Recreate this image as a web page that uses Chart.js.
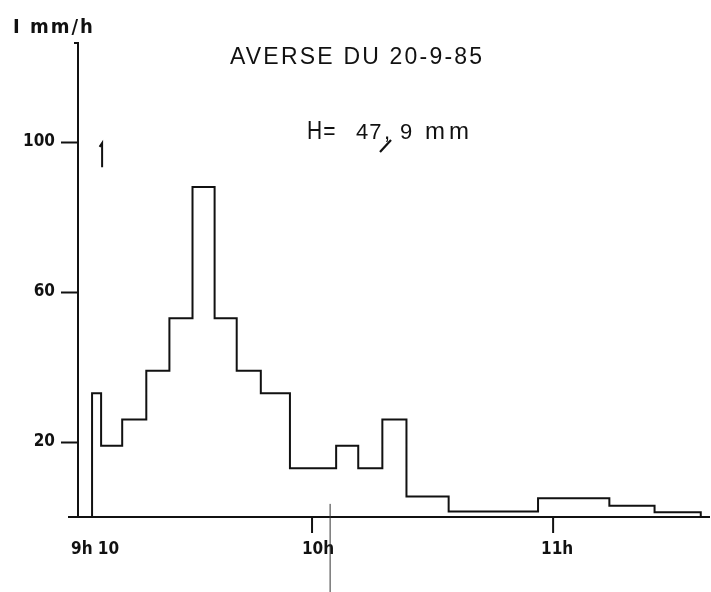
<!DOCTYPE html>
<html>
<head>
<meta charset="utf-8">
<title>Averse du 20-9-85</title>
<script src="https://cdn.jsdelivr.net/npm/chart.js@4.4.1/dist/chart.umd.min.js"></script>
<style>
    html, body { margin: 0; padding: 0; background: #ffffff; }
</style>
</head>
<body>
<canvas id="hyetoChart" width="711" height="592"></canvas>
<script>
// Interval boundaries, in minutes after 9h00
const edgesMin = [5.25, 7.5, 12.75, 18.75, 24.5, 30.25, 35.75, 41.25, 47.25, 54.5,
                  66, 71.5, 77.5, 83.5, 94, 116.25, 134, 145.25, 156.75];
// Rain intensity for each interval (mm/h)
const intensity = [33, 19, 26, 39, 53, 88, 53, 39, 33, 13,
                   19, 13, 26, 5.5, 1.5, 5, 3, 1.3];

const yTickValues = [20, 60, 100];
const xTickValues = [6, 61.5, 121];
const xTickMarks = [60, 120];
const xTickLabels = ['9h 10', '10h', '11h'];

const ink = '#111111';
const labelFont = { family: '"Liberation Sans Narrow", "DejaVu Sans Condensed", sans-serif', size: 17, weight: 'bold' };

// Build the step outline: rise at the first edge, one point per interval, drop at the end
const points = [{ x: edgesMin[0], y: 0 }];
intensity.forEach((v, i) => points.push({ x: edgesMin[i], y: v }));
points.push({ x: edgesMin[edgesMin.length - 1], y: 0 });

// Extra drawing: headings, unit label, hour ticks, axis extension and small marks
const decorations = {
    id: 'decorations',
    afterDraw(chart) {
        const ctx = chart.ctx;
        const xs = chart.scales.x;
        const ys = chart.scales.y;
        const area = chart.chartArea;
        ctx.save();
        ctx.strokeStyle = ink;
        ctx.fillStyle = ink;

        // x axis runs a little past the y axis on the left
        ctx.lineWidth = 2;
        ctx.beginPath();
        ctx.moveTo(area.left - 10, area.bottom);
        ctx.lineTo(area.left, area.bottom);
        ctx.stroke();

        // hour tick marks below the time axis
        xTickMarks.forEach(v => {
            const px = xs.getPixelForValue(v);
            ctx.beginPath();
            ctx.moveTo(px, area.bottom);
            ctx.lineTo(px, area.bottom + 16);
            ctx.stroke();
        });

        // small hook at the top of the y axis
        ctx.beginPath();
        ctx.moveTo(area.left - 4, area.top);
        ctx.lineTo(area.left, area.top);
        ctx.stroke();

        // start-of-rain marker
        const ax = xs.getPixelForValue(7.75);
        ctx.beginPath();
        ctx.moveTo(ax, ys.getPixelForValue(93.3));
        ctx.lineTo(ax, ys.getPixelForValue(99.7));
        ctx.lineTo(ax - 2.5, ys.getPixelForValue(98.7));
        ctx.stroke();

        // thin vertical rule crossing the time axis
        const rx = xs.getPixelForValue(64.5);
        ctx.strokeStyle = '#333333';
        ctx.lineWidth = 1;
        ctx.beginPath();
        ctx.moveTo(rx, ys.getPixelForValue(3.5));
        ctx.lineTo(rx, chart.height);
        ctx.stroke();

        // unit label
        ctx.textBaseline = 'alphabetic';
        ctx.textAlign = 'left';
        ctx.font = 'bold 20px "Liberation Sans Narrow", "DejaVu Sans Condensed", sans-serif';
        ctx.letterSpacing = '2px';
        ctx.fillText('I mm/h', 13, 33);

        // storm heading
        ctx.font = '23px "Liberation Sans", sans-serif';
        ctx.letterSpacing = '2.2px';
        ctx.fillText('AVERSE DU 20-9-85', 230, 64);

        // rainfall depth, set piece by piece like the lettering stencil
        ctx.font = '21px "Liberation Sans", sans-serif';
        ctx.letterSpacing = '1px';
        ctx.save();
        ctx.scale(1, 1.2);
        ctx.fillText('H=', 307, 139 / 1.2);
        ctx.restore();
        ctx.font = '22px "Liberation Sans", sans-serif';
        ctx.fillText('47', 356, 139);
        ctx.fillText(',', 384, 139);
        ctx.fillText('9', 400, 139);
        ctx.font = '24px "Liberation Sans", sans-serif';
        ctx.letterSpacing = '4px';
        ctx.fillText('mm', 425, 139);
        ctx.strokeStyle = ink;
        ctx.lineWidth = 2.2;
        ctx.beginPath();
        ctx.moveTo(391, 140);
        ctx.lineTo(380, 152);
        ctx.stroke();
        ctx.restore();
    }
};

new Chart(document.getElementById('hyetoChart'), {
    type: 'line',
    data: {
        datasets: [{
            label: 'Intensité',
            data: points,
            stepped: 'before',
            borderColor: ink,
            borderWidth: 2,
            pointRadius: 0,
            fill: false
        }]
    },
    plugins: [decorations],
    options: {
        responsive: false,
        animation: false,
        layout: { padding: { top: 43, right: 2, left: 0, bottom: 0 } },
        scales: {
            x: {
                type: 'linear',
                min: 1.75,
                max: 158.8,
                afterBuildTicks: scale => {
                    scale.ticks = xTickValues.map(v => ({ value: v }));
                },
                afterFit: scale => { scale.height = 75; },
                ticks: {
                    autoSkip: false,
                    maxRotation: 0,
                    padding: 6,
                    color: ink,
                    font: labelFont,
                    callback: (value, index) => xTickLabels[index]
                },
                grid: {
                    drawOnChartArea: false,
                    tickLength: 16,
                    tickColor: 'rgba(0,0,0,0)'
                },
                border: { display: true, color: ink, width: 2 }
            },
            y: {
                min: 0,
                max: 126.4,
                afterBuildTicks: scale => {
                    scale.ticks = yTickValues.map(v => ({ value: v }));
                },
                afterFit: scale => { scale.width = 78; },
                ticks: {
                    padding: 6,
                    color: ink,
                    font: labelFont
                },
                grid: {
                    drawOnChartArea: false,
                    tickLength: 17,
                    tickWidth: 2,
                    tickColor: ink
                },
                border: { display: true, color: ink, width: 2 }
            }
        },
        plugins: {
            legend: { display: false },
            tooltip: { enabled: false },
            title: { display: false }
        }
    }
});
</script>
</body>
</html>
